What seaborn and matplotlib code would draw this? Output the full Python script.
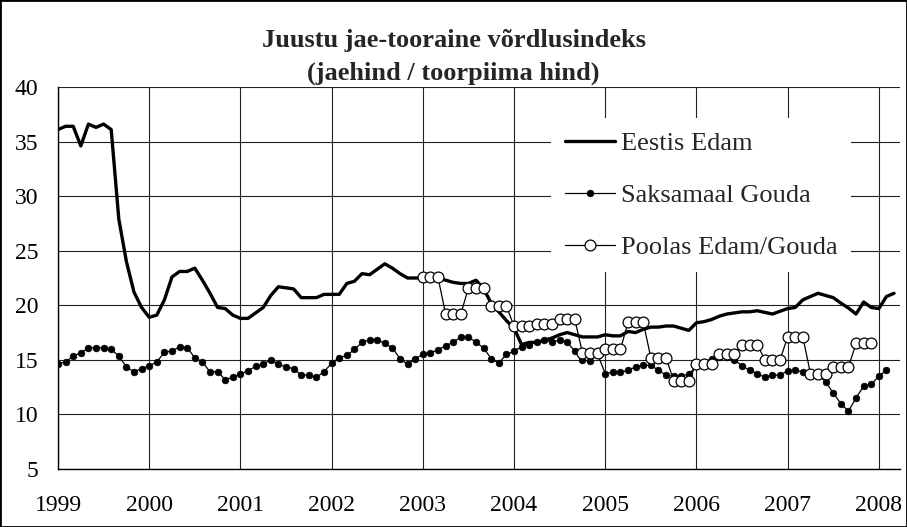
import numpy as np
import pandas as pd
import matplotlib
matplotlib.use("Agg")
import matplotlib.pyplot as plt
from matplotlib.patches import Rectangle
import seaborn as sns

# ---- data (monthly values, starting January of the start year) ----
start_year = 1999
year_ticks = [1999, 2000, 2001, 2002, 2003, 2004, 2005, 2006, 2007, 2008]
y_ticks = [5, 10, 15, 20, 25, 30, 35, 40]

eestis_edam = [
    36.1, 36.4, 36.4, 34.6, 36.6, 36.3, 36.6, 36.1, 27.9, 24.0, 21.2, 19.8,
    18.9, 19.1, 20.5, 22.6, 23.1, 23.1, 23.4, 22.3, 21.1, 19.8, 19.7, 19.1,
    18.8, 18.8, 19.3, 19.8, 20.9, 21.7, 21.6, 21.5, 20.7, 20.7, 20.7, 21.0,
    21.0, 21.0, 22.0, 22.2, 22.9, 22.8, 23.3, 23.8, 23.4, 22.9, 22.5, 22.5,
    22.5, 22.5, 22.5, 22.3, 22.1, 22.0, 22.0, 22.3, 21.5, 20.2, 19.4, 18.6,
    17.9, 16.4, 16.6, 16.6, 16.8, 17.0, 17.3, 17.5, 17.3, 17.1, 17.1, 17.1,
    17.3, 17.2, 17.2, 17.6, 17.5, 17.8, 18.0, 18.0, 18.1, 18.1, 17.9, 17.7,
    18.4, 18.5, 18.7, 19.0, 19.2, 19.3, 19.4, 19.4, 19.5, 19.35, 19.2, 19.45,
    19.7, 19.8, 20.5, 20.8, 21.1, 20.9, 20.7, 20.2, 19.75, 19.2, 20.3, 19.8,
    19.7, 20.8, 21.1,
]

saksamaal_gouda = [
    14.65, 14.8, 15.35, 15.65, 16.1, 16.1, 16.1, 15.95, 15.35, 14.35, 13.9, 14.2,
    14.45, 14.8, 15.7, 15.8, 16.2, 16.1, 15.2, 14.8, 13.9, 13.9, 13.2, 13.4,
    13.7, 14.0, 14.4, 14.6, 15.0, 14.6, 14.35, 14.2, 13.6, 13.6, 13.4, 13.9,
    14.7, 15.2, 15.4, 15.95, 16.6, 16.85, 16.85, 16.5, 16.1, 15.1, 14.6, 15.1,
    15.5, 15.65, 15.9, 16.3, 16.6, 17.1, 17.1, 16.6, 16.1, 15.1, 14.7, 15.5,
    15.8, 16.2, 16.4, 16.6, 16.85, 16.6, 16.85, 16.6, 15.8, 15.0, 14.9, 15.5,
    13.75, 13.85, 13.85, 14.05, 14.35, 14.5, 14.5, 14.05, 13.6, 13.5, 13.5, 13.7,
    14.4, 14.8, 15.1, 15.3, 15.3, 15.0, 14.45, 14.05, 13.75, 13.4, 13.6, 13.6,
    14.0, 14.05, 13.9, 13.75, 13.6, 13.0, 11.95, 11.0, 10.3, 11.5, 12.6, 12.75,
    13.5, 14.05,
]

poolas_start_year = 2003
poolas_edam_gouda = [
    22.55, 22.55, 22.55, 19.2, 19.2, 19.2, 21.6, 21.6, 21.6, 19.9, 19.9, 19.9,
    18.1, 18.1, 18.1, 18.25, 18.25, 18.25, 18.7, 18.7, 18.7, 15.65, 15.65, 15.65,
    15.95, 15.95, 15.95, 18.45, 18.45, 18.45, 15.2, 15.2, 15.2, 13.1, 13.1, 13.1,
    14.65, 14.65, 14.65, 15.5, 15.5, 15.5, 16.4, 16.4, 16.4, 15.0, 15.0, 15.0,
    17.1, 17.1, 17.1, 13.75, 13.75, 13.75, 14.35, 14.35, 14.35, 16.5, 16.5, 16.5,
]

labels = ["Eestis Edam", "Saksamaal Gouda", "Poolas Edam/Gouda"]


def month_axis(start, n):
    return start + np.arange(n) / 12.0


# ---- style ----
sns.set_style("white")
plt.rcParams["font.family"] = ["Liberation Serif", "DejaVu Serif"]

W, H = 907, 527
fig = plt.figure(figsize=(W / 100, H / 100), dpi=100)
fig.patch.set_facecolor("white")
ax = fig.add_axes([58 / W, 1 - 469 / H, (900 - 58) / W, (469 - 87) / H])

sns.lineplot(x=month_axis(start_year, len(eestis_edam)), y=eestis_edam, ax=ax,
             color="black", linewidth=2.4, label=labels[0], zorder=3)
sns.lineplot(x=month_axis(start_year, len(saksamaal_gouda)), y=saksamaal_gouda, ax=ax,
             color="black", linewidth=0.9, marker="o", markersize=4.8,
             markerfacecolor="black", markeredgecolor="black", markeredgewidth=0.5,
             label=labels[1], zorder=4)
sns.lineplot(x=month_axis(poolas_start_year, len(poolas_edam_gouda)), y=poolas_edam_gouda, ax=ax,
             color="black", linewidth=0.9, marker="o", markersize=7.8,
             markerfacecolor="white", markeredgecolor="black", markeredgewidth=0.9,
             label=labels[2], zorder=5)

ax.set_xlim(1999.0, 2008.232)
ax.set_ylim(5, 40)
ax.set_xticks(year_ticks)
ax.set_xticklabels([str(y) for y in year_ticks])
ax.set_yticks(y_ticks)
ax.set_xlabel("")
ax.set_ylabel("")

ax.grid(True, color="#222222", linewidth=0.8)
ax.set_axisbelow(True)
for side in ["top", "right"]:
    ax.spines[side].set_visible(False)
for side in ["left", "bottom"]:
    ax.spines[side].set_color("black")
    ax.spines[side].set_linewidth(1.0)

ax.tick_params(axis="both", direction="out", length=6, width=0.8, color="black",
               labelsize=17, labelcolor="black")
ax.tick_params(axis="x", pad=13)
ax.tick_params(axis="y", pad=8)

leg = ax.legend(loc="upper left", bbox_to_anchor=(0.586, 0.918), frameon=True,
                fontsize=19, handlelength=1.9, handletextpad=0.25,
                labelspacing=1.08, borderpad=0.5, borderaxespad=0.0)
leg.get_frame().set_facecolor("white")
leg.get_frame().set_edgecolor("none")
leg.get_frame().set_alpha(1.0)
leg.set_zorder(10)

fig.text(0.5, 1 - 40 / H, "Juustu jae-tooraine võrdlusindeks", ha="center", va="center",
         fontsize=19, fontweight="bold")
fig.text(0.5, 1 - 73 / H, "(jaehind / toorpiima hind)", ha="center", va="center",
         fontsize=19, fontweight="bold")

fig.patches.append(Rectangle((0, 0), 1, 1, transform=fig.transFigure, fill=False,
                             edgecolor="black", linewidth=2.0, zorder=20))

fig.savefig("out.png", dpi=100, facecolor="white")
